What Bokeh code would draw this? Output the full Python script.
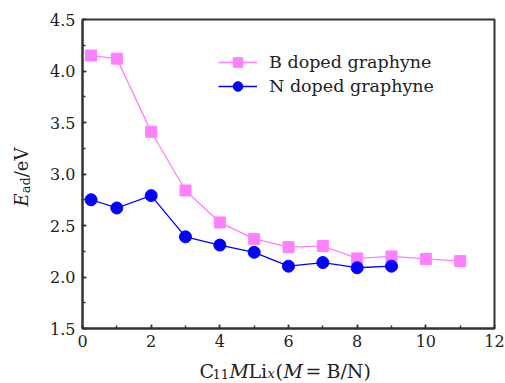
from math import pi
from bokeh.plotting import figure
from bokeh.layouts import column, row
from bokeh.models import (Label, Legend, LegendItem, SingleIntervalTicker,
                          PrintfTickFormatter, Range1d)
from bokeh.embed import file_html
from bokeh.resources import INLINE

# ---- data ----
x_b = [0.25, 1, 2, 3, 4, 5, 6, 7, 8, 9, 10, 11]
e_b = [4.15, 4.12, 3.41, 2.84, 2.53, 2.37, 2.29, 2.30, 2.18, 2.20, 2.175, 2.155]
x_n = [0.25, 1, 2, 3, 4, 5, 6, 7, 8, 9]
e_n = [2.75, 2.67, 2.79, 2.39, 2.31, 2.24, 2.105, 2.14, 2.09, 2.105]
series_names = ["B doped graphyne", "N doped graphyne"]

PINK = "#FF80FF"
BLUE = "#0000FF"
AX = "#333333"
TXT = "#222222"
FONT = "DejaVu Serif"

# target frame geometry (canvas px)
FL, FR, FT, FB = 82, 494, 19, 328
W, H = 505, 383
YW = 40          # width of the y-label strip
HM = 356         # height of the main figure
XH = H - HM      # height of the x-label strip

p = figure(width=W - YW, height=HM, output_backend="svg", toolbar_location=None,
           x_range=Range1d(0, 12), y_range=Range1d(1.5, 4.5),
           min_border_left=FL - YW, min_border_right=W - FR,
           min_border_top=FT, min_border_bottom=HM - FB)
p.xgrid.visible = False
p.ygrid.visible = False
p.outline_line_color = AX
p.outline_line_width = 2

p.xaxis.ticker = SingleIntervalTicker(interval=2, num_minor_ticks=2)
p.yaxis.ticker = SingleIntervalTicker(interval=0.5, num_minor_ticks=2)
p.yaxis.formatter = PrintfTickFormatter(format="%.1f")
for ax in (p.xaxis, p.yaxis):
    ax.axis_line_color = AX
    ax.axis_line_width = 2
    ax.major_tick_line_color = AX
    ax.minor_tick_line_color = AX
    ax.major_tick_line_width = 1.5
    ax.minor_tick_line_width = 1.5
    ax.major_tick_in = 4
    ax.major_tick_out = 0
    ax.minor_tick_in = 3
    ax.minor_tick_out = 0
    ax.major_label_text_font = FONT
    ax.major_label_text_font_size = "16px"
    ax.major_label_text_color = TXT
p.xaxis.major_label_standoff = 6
p.yaxis.major_label_standoff = 7

lb = p.line(x_b, e_b, line_color=PINK, line_width=1.3)
sb = p.scatter(x_b, e_b, marker="square", size=11, fill_color=PINK, line_color=PINK)
ln = p.line(x_n, e_n, line_color=BLUE, line_width=1.3)
sn = p.scatter(x_n, e_n, marker="circle", size=12, fill_color=BLUE, line_color=BLUE)

leg = Legend(items=[LegendItem(label=series_names[0], renderers=[lb, sb]),
                    LegendItem(label=series_names[1], renderers=[ln, sn])],
             location=(218 - FL, FB - 98),
             glyph_width=39, glyph_height=24, label_height=24, spacing=0,
             label_standoff=12, padding=0, margin=0,
             border_line_alpha=0, background_fill_alpha=0,
             label_text_font=FONT, label_text_font_size="17.5px",
             label_text_color=TXT)
p.add_layout(leg, "center")


def strip(w, h):
    f = figure(width=w, height=h, output_backend="svg", toolbar_location=None,
               x_range=Range1d(0, w), y_range=Range1d(0, h),
               x_axis_location=None, y_axis_location=None,
               min_border=0, outline_line_color=None)
    f.xgrid.visible = False
    f.ygrid.visible = False
    return f


def put(f, text, sx, sy, size, style="normal", angle=0.0):
    f.add_layout(Label(x=sx, y=sy, x_units="screen", y_units="screen",
                       text=text, text_font=FONT, text_font_size=f"{size}px",
                       text_font_style=style, text_color=TXT,
                       text_align="left", text_baseline="alphabetic",
                       angle=angle))


S, s = 19, 13

# x-axis label strip: C11 M Li x (M = B/N); (text, left x, size, style, drop)
xf = strip(W, XH)
BASE = 370
pieces = [("C", 199, S, "normal", 0),
          ("11", 212, s, "normal", 3),
          ("M", 229, S, "italic", 0),
          ("Li", 248, S, "normal", 0),
          ("x", 267, s, "italic", 3),
          ("(", 275, S, "normal", 0),
          ("M", 283, S, "italic", 0),
          ("=", 305, S, "normal", 0),
          ("B/N)", 326, S, "normal", 0)]
for t, cx, sz, st, dy in pieces:
    put(xf, t, cx, H - (BASE + dy), sz, st)

# y-axis label strip: E_ad / eV (rotated)
S2 = 18
yf = strip(YW, HM)
bx = 21
cy = 234
put(yf, "E", bx, HM - cy, S2, "italic", pi / 2)
cy -= 0.734 * S2
put(yf, "ad", bx + 4, HM - cy, s, "normal", pi / 2)
cy -= (0.596 + 0.64) * s
put(yf, "/eV", bx, HM - cy, S2, "normal", pi / 2)

layout = column(row(yf, p, spacing=0), xf, spacing=0)
open("out.html", "w").write(file_html(layout, INLINE))
